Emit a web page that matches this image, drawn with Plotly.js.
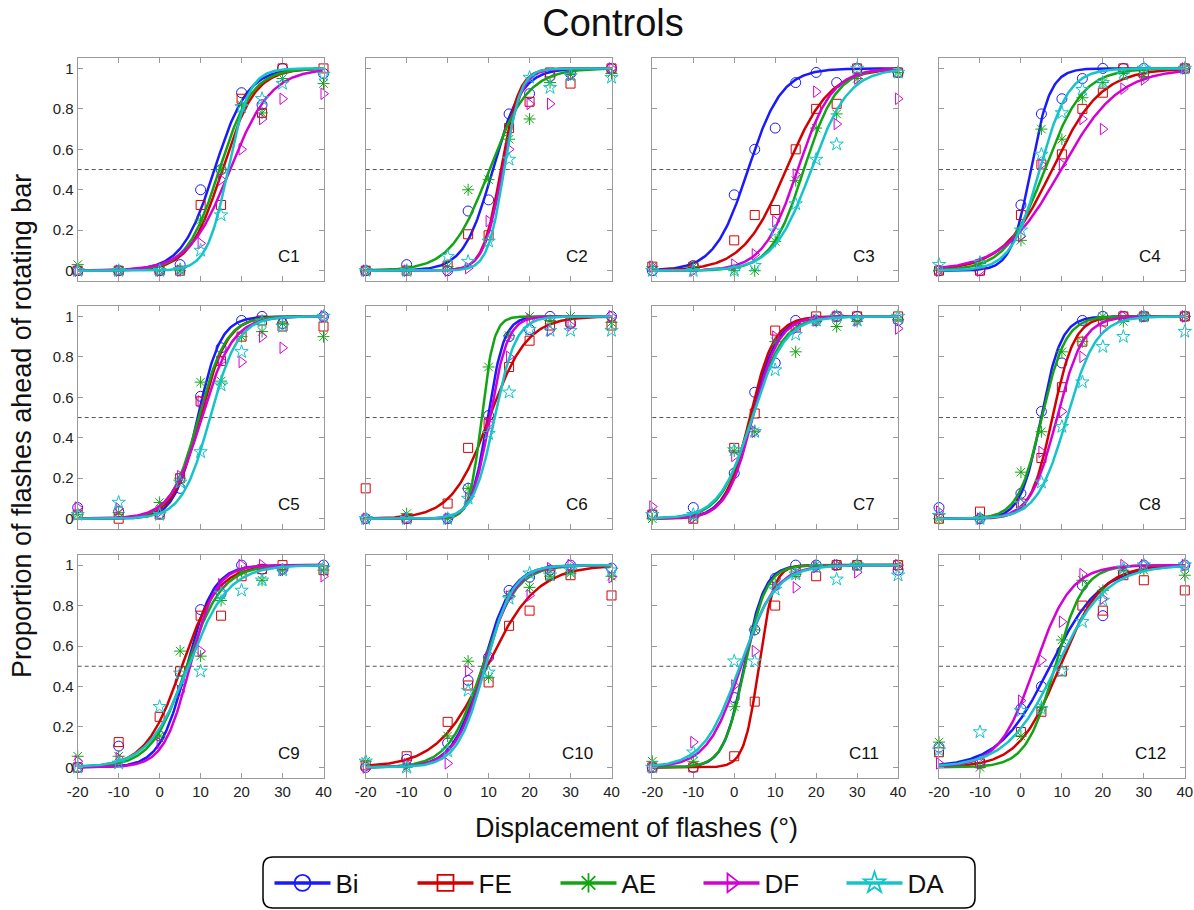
<!DOCTYPE html>
<html><head><meta charset="utf-8">
<script src="https://cdn.plot.ly/plotly-3.0.1.min.js"></script>
<style>html,body{margin:0;padding:0;background:#fff}#chart{width:1194px;height:910px}</style>
</head><body><div id="chart"></div>
<script>
// ---------------- data ----------------
const displacement = [-20, -10, 0, 5, 10, 15, 20, 25, 30, 40];
const panelNames = ['C1','C2','C3','C4','C5','C6','C7','C8','C9','C10','C11','C12'];
const seriesNames = ['Bi','FE','AE','DF','DA'];
const xTicks = [-20, -10, 0, 10, 20, 30, 40];
const yTicks = [0, 0.2, 0.4, 0.6, 0.8, 1];
const yTickText = ['0', '0.2', '0.4', '0.6', '0.8', '1'];

// proportion of flashes ahead, one row per panel C1..C12
const propBi = [
  [0,0,0,0.03,0.40,0.50,0.88,0.82,1.0,0.975],
  [0,0.03,0,0.295,0.35,0.775,0.875,0.96,0.975,1.0],
  [0,0.025,0.375,0.6,0.705,0.93,0.98,0.93,1.0,0.98],
  [0,0,0.325,0.775,0.85,0.95,1.0,1.0,1.0,1.0],
  [0.055,0.035,0.025,0.15,0.605,0.845,0.98,1.0,0.965,1.0],
  [0,0,0,0.15,0.51,0.9,0.935,1.0,0.965,1.0],
  [0.02,0.055,0.225,0.625,0.77,0.98,0.98,1.0,1.0,0.98],
  [0.055,0,0.125,0.53,0.77,0.98,1.0,1.0,1.0,1.0],
  [0,0.105,0.155,0.425,0.78,0.86,1.0,0.98,0.98,1.0],
  [0,0.04,0.12,0.43,0.545,0.875,0.94,0.975,1.0,0.985],
  [0,0,0.345,0.68,0.935,1.0,1.0,1.0,1.0,0.975],
  [0.1,0.02,0.29,0.4,0.575,0.9,0.75,0.96,1.0,1.0]
];
const propFE = [
  [0,0,0,0,0.325,0.325,0.85,0.78,1.0,1.0],
  [0,0,0.025,0.18,0.175,0.705,0.835,0.98,0.925,1.0],
  [0.02,0.02,0.15,0.275,0.3,0.6,0.8,0.825,1.0,0.98],
  [0,0,0.275,0.525,0.575,0.8,0.88,1.0,0.975,1.0],
  [0.02,0,0.02,0.2,0.58,0.78,0.9,0.98,0.95,0.95],
  [0.15,0,0.075,0.35,0.47,0.75,0.88,0.955,0.97,0.955],
  [0.02,0,0.35,0.52,0.93,0.945,1.0,1.0,1.0,1.0],
  [0,0.035,0.075,0.3,0.65,0.875,0.975,1.0,1.0,1.0],
  [0,0.125,0.25,0.475,0.75,0.75,0.945,0.98,1.0,0.975],
  [0.01,0.055,0.225,0.405,0.42,0.70,0.775,0.95,0.95,0.85],
  [0,0,0.055,0.325,0.80,0.965,0.945,1.0,1.0,1.0],
  [0.075,0.02,0.175,0.275,0.475,0.8,0.775,0.95,0.925,0.875]
];
const propAE = [
  [0.03,0,0,0,0.25,0.5,0.82,0.78,0.95,0.925],
  [0,0,0.02,0.40,0.45,0.65,0.75,0.93,0.97,0.975],
  [0.02,0.02,0,0,0.145,0.445,0.705,0.775,0.95,0.98],
  [0,0.035,0.15,0.70,0.65,0.855,0.93,0.975,0.96,1.0],
  [0.02,0.03,0.08,0.2,0.675,0.68,0.9,0.925,0.965,0.9],
  [0,0.025,0,0.15,0.75,0.905,1.0,0.98,1.0,0.97],
  [0,0.005,0.335,0.43,0.875,0.825,0.975,0.95,0.975,0.985],
  [0,0,0.23,0.43,0.825,0.875,1.0,0.975,1.0,1.0],
  [0.055,0.055,0.155,0.575,0.55,0.825,0.97,0.925,0.975,0.975],
  [0.03,0,0.155,0.525,0.445,0.85,0.89,0.945,0.96,0.945],
  [0.03,0.03,0.3,0.68,0.905,0.955,1.0,1.0,1.0,1.0],
  [0.125,0,0.155,0.3,0.63,0.925,0.875,0.975,0.975,0.95]
];
const propDF = [
  [0,0,0,0,0.135,0.45,0.60,0.75,0.85,0.875],
  [0,0,0,0.013,0.245,0.6,0.825,0.825,0.967,1.0],
  [0.02,0,0.03,0.08,0.245,0.475,0.885,0.725,0.95,0.85],
  [0,0,0.17,0.525,0.525,0.75,0.70,0.9,0.945,1.0],
  [0.055,0.05,0.035,0.21,0.58,0.78,0.775,0.9,0.845,1.0],
  [0,0,0,0.1,0.47,0.8,0.985,0.93,0.955,1.0],
  [0.06,0.005,0.31,0.43,0.9,0.94,0.98,1.0,0.98,0.94],
  [0.035,0,0.075,0.33,0.53,0.8,0.935,1.0,1.0,1.0],
  [0.03,0.045,0.12,0.375,0.575,0.905,1.0,1.0,0.975,0.945],
  [0,0.015,0.02,0.475,0.545,0.845,0.85,0.985,1.0,0.94],
  [0,0.125,0.405,0.575,0.89,0.89,0.99,1.0,0.965,1.0],
  [0.02,0.02,0.33,0.53,0.72,0.955,0.835,1.0,1.0,1.0]
];
const propDA = [
  [0,0,0,0.005,0.10,0.275,0.81,0.85,0.925,0.97],
  [0,0,0.07,0.045,0.145,0.55,0.955,0.905,0.965,0.955],
  [0,0,0,0.025,0.195,0.33,0.55,0.625,1.0,0.98],
  [0.03,0.04,0.2,0.575,0.78,0.895,0.93,0.97,1.0,1.0],
  [0.02,0.08,0.02,0.18,0.33,0.66,0.825,0.975,0.95,1.0],
  [0,0,0,0.1,0.42,0.625,0.935,0.93,0.93,0.93],
  [0.02,0.02,0.34,0.43,0.735,0.91,0.98,1.0,0.98,1.0],
  [0.015,0,0.075,0.18,0.455,0.675,0.85,0.9,1.0,0.925],
  [0,0.02,0.3,0.465,0.475,0.86,0.875,0.925,0.975,0.985],
  [0.03,0,0.08,0.38,0.47,0.835,0.96,0.95,0.975,0.975],
  [0,0.075,0.525,0.525,0.88,0.955,0.99,0.93,1.0,0.95],
  [0.085,0.175,0.28,0.29,0.475,0.72,0.825,0.985,1.0,1.0]
];

// fitted psychometric (logistic) curves: 50% point and spread, per panel C1..C12
const midBi = [13.4, 11.0, 3.4, 2.4, 9.3, 9.8, 4.1, 4.9, 6.6, 8.5, 2.4, 7.1];
const spreadBi = [4.0, 3.5, 4.1, 2.4, 2.8, 2.0, 3.2, 2.5, 3.3, 3.6, 2.5, 6.2];
const midFE = [15.3, 13.0, 12.7, 7.6, 9.9, 10.2, 3.8, 7.7, 5.4, 9.6, 6.0, 9.5];
const spreadFE = [4.0, 2.2, 5.3, 6.0, 3.3, 4.6, 3.0, 2.7, 4.4, 6.1, 1.8, 5.1];
const midAE = [14.6, 10.2, 17.0, 5.8, 9.5, 8.3, 4.3, 5.1, 6.6, 8.5, 2.6, 8.3];
const spreadAE = [4.0, 4.7, 4.0, 4.7, 3.4, 1.5, 3.8, 2.9, 4.3, 4.1, 2.6, 3.5];
const midDF = [17.2, 13.4, 15.5, 9.8, 10.3, 10.3, 4.5, 8.8, 7.4, 9.0, 1.7, 3.4];
const spreadDF = [5.0, 2.3, 4.2, 7.0, 3.8, 2.2, 3.2, 3.2, 3.2, 3.7, 4.1, 4.4];
const midDA = [16.7, 13.8, 18.8, 4.6, 12.3, 11.5, 4.4, 11.2, 7.0, 9.2, 1.3, 8.7];
const spreadDA = [2.6, 2.0, 4.6, 3.5, 3.4, 2.6, 4.0, 3.6, 4.9, 3.4, 4.4, 6.1];

// ---------------- styling ----------------
const FONT = 'Liberation Sans, Arial, Helvetica, sans-serif';
const styles = {
  Bi: {color: '#1a1aff', symbol: 'circle-open', size: 10, prop: propBi, mid: midBi, spread: spreadBi},
  FE: {color: '#d40000', symbol: 'square-open', size: 9, prop: propFE, mid: midFE, spread: spreadFE},
  AE: {color: '#12a512', symbol: 'asterisk-open', size: 10, prop: propAE, mid: midAE, spread: spreadAE},
  DF: {color: '#d400d4', symbol: 'triangle-right-open', size: 10, prop: propDF, mid: midDF, spread: spreadDF},
  DA: {color: '#14c4c8', symbol: 'star-open', size: 10, prop: propDA, mid: midDA, spread: spreadDA}
};

const W = 1194, H = 910;
const colLeft = [77.7, 365.7, 652.3, 939.0];
const rowTop = [58.3, 306.3, 555.0];
const panelW = 245.8, panelH = 222.5;

const fineX = [];
for (let x = -20; x <= 40.0001; x += 0.25) fineX.push(+x.toFixed(2));

const traces = [];
const layout = {
  width: W, height: H,
  margin: {l: 0, r: 0, t: 0, b: 0},
  paper_bgcolor: '#fff', plot_bgcolor: '#fff',
  showlegend: true,
  font: {family: FONT, color: '#111'},
  title: {text: 'Controls', font: {family: FONT, size: 38, color: '#111'},
          x: 613 / W, xanchor: 'center', xref: 'paper', y: 1 - 23 / H, yanchor: 'middle', yref: 'container'},
  annotations: [],
  shapes: [{
    // rounded legend frame
    type: 'path', xref: 'paper', yref: 'paper', layer: 'above',
    path: (() => {
      const l = 263 / W, r = 975 / W, t = 1 - 857 / H, b = 1 - 908 / H, rx = 10 / W, ry = 10 / H;
      return `M${l + rx},${t} L${r - rx},${t} Q${r},${t} ${r},${t - ry} L${r},${b + ry} Q${r},${b} ${r - rx},${b} ` +
             `L${l + rx},${b} Q${l},${b} ${l},${b + ry} L${l},${t - ry} Q${l},${t} ${l + rx},${t} Z`;
    })(),
    line: {color: '#000', width: 1.5}, fillcolor: 'rgba(0,0,0,0)'
  }],
  legend: {
    orientation: 'h', x: 627 / W, xanchor: 'center', y: 1 - 883 / H, yanchor: 'middle',
    borderwidth: 0, bgcolor: 'rgba(0,0,0,0)',
    font: {family: FONT, size: 26, color: '#111'},
    itemwidth: 56, entrywidth: 72, tracegroupgap: 0, itemclick: false
  }
};

panelNames.forEach((pname, i) => {
  const col = i % 4, row = Math.floor(i / 4);
  const k = i === 0 ? '' : String(i + 1);
  const xa = 'x' + k, ya = 'y' + k;
  const x0 = colLeft[col] / W, x1 = (colLeft[col] + panelW) / W;
  const y1 = 1 - rowTop[row] / H, y0 = 1 - (rowTop[row] + panelH) / H;
  const axBase = {
    showline: true, linecolor: '#9a9a9a', linewidth: 1, mirror: 'ticks',
    ticks: 'inside', ticklen: 5, tickcolor: '#9a9a9a', tickwidth: 1,
    showgrid: false, zeroline: false, fixedrange: true, ticklabeloverflow: 'allow',
    tickfont: {family: FONT, size: 15, color: '#222'}
  };
  layout['xaxis' + k] = Object.assign({}, axBase, {
    domain: [x0, x1], anchor: ya, range: [-20, 40],
    tickmode: 'array', tickvals: xTicks, ticktext: xTicks.map(String),
    showticklabels: row === 2
  });
  layout['yaxis' + k] = Object.assign({}, axBase, {
    domain: [y0, y1], anchor: xa, range: [-0.05, 1.05],
    tickmode: 'array', tickvals: yTicks, ticktext: yTickText,
    showticklabels: col === 0
  });
  // 50% reference line
  layout.shapes.push({type: 'line', xref: xa + ' domain', yref: ya, x0: 0, x1: 1, y0: 0.5, y1: 0.5,
    line: {color: '#555', width: 1, dash: '4px,3px'}, layer: 'below'});
  // panel label
  layout.annotations.push({text: pname, xref: xa + ' domain', yref: ya + ' domain', x: 0.86, y: 0.107,
    xanchor: 'center', yanchor: 'middle', showarrow: false, font: {family: FONT, size: 17, color: '#111'}});

  seriesNames.forEach(s => {
    const st = styles[s];
    const mu = st.mid[i], sp = st.spread[i];
    traces.push({
      type: 'scatter', mode: 'markers', xaxis: xa, yaxis: ya, x: displacement, y: st.prop[i],
      marker: {symbol: st.symbol, size: st.size, color: st.color, line: {color: st.color, width: 1}},
      showlegend: false, hoverinfo: 'skip', cliponaxis: false
    });
    traces.push({
      type: 'scatter', mode: 'lines', xaxis: xa, yaxis: ya, x: fineX,
      y: fineX.map(x => 1 / (1 + Math.exp(-(x - mu) / sp))),
      line: {color: st.color, width: 2.5}, showlegend: false, hoverinfo: 'skip'
    });
  });
});

// legend entries
seriesNames.forEach(s => {
  const st = styles[s];
  traces.push({
    type: 'scatter', mode: 'lines+markers', name: s, x: [null], y: [null], xaxis: 'x', yaxis: 'y',
    line: {color: st.color, width: 3.5},
    marker: {symbol: st.symbol, size: 16, color: st.color, line: {color: st.color, width: 1.8}},
    showlegend: true
  });
});

// shared axis labels
layout.annotations.push({text: 'Proportion of flashes ahead of rotating bar', xref: 'paper', yref: 'paper',
  x: 22 / W, y: 1 - 426 / H, textangle: -90, showarrow: false, xanchor: 'center', yanchor: 'middle',
  font: {family: FONT, size: 27, color: '#111'}});
layout.annotations.push({text: 'Displacement of flashes (°)', xref: 'paper', yref: 'paper',
  x: 636 / W, y: 1 - 828 / H, showarrow: false, xanchor: 'center', yanchor: 'middle',
  font: {family: FONT, size: 27, color: '#111'}});

Plotly.newPlot('chart', traces, layout, {displayModeBar: false, staticPlot: true});
</script>
</body></html>
